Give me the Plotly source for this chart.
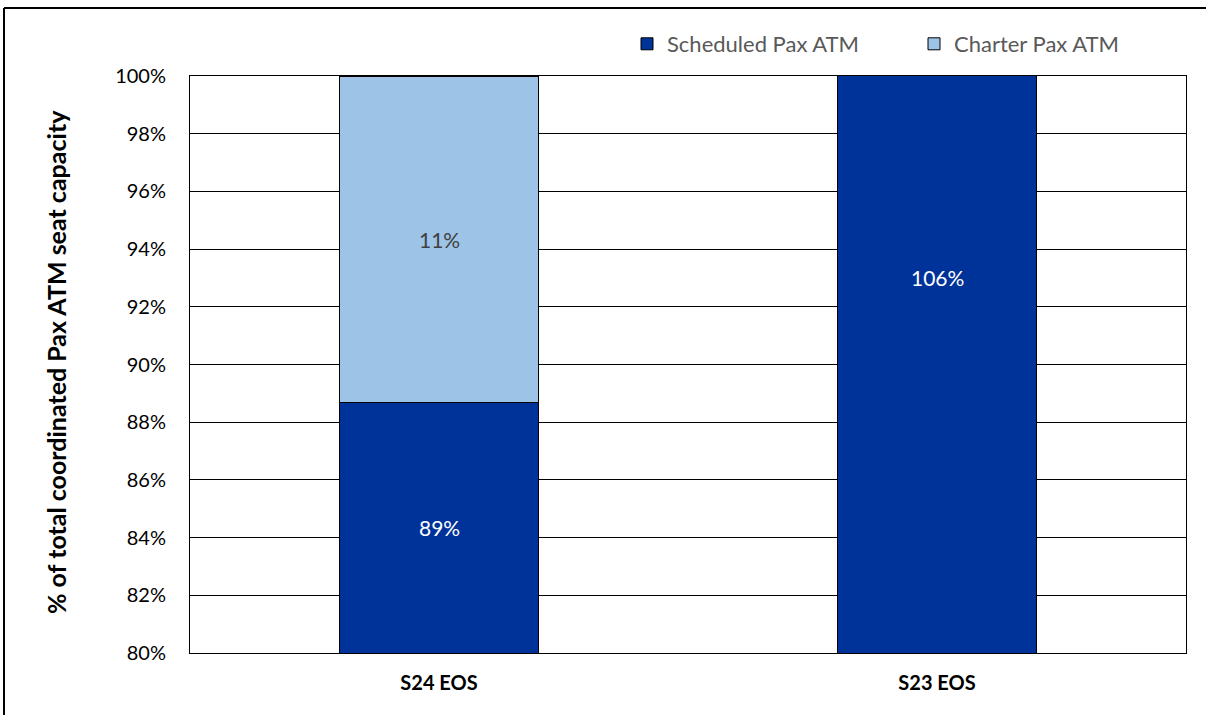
import plotly.graph_objects as go

categories = ["S24 EOS", "S23 EOS"]
scheduled = [88.7, 106.0]
charter = [11.3, None]
labels_sched = ["89%", "106%"]
labels_charter = ["11%", None]
y_min, y_max = 80, 100
y_ticks = [80, 82, 84, 86, 88, 90, 92, 94, 96, 98, 100]

W, H = 1206, 715
L, R, T, B = 190, 1186, 76, 653
FONT = "Lato, 'Open Sans', sans-serif"

fig = go.Figure()
fig.add_trace(go.Bar(name="Scheduled Pax ATM", x=categories, y=scheduled, legend="legend",
                     showlegend=True,
                     marker=dict(color="#003399", line=dict(color="#000000", width=1))))
fig.add_trace(go.Bar(name="Charter Pax ATM", x=categories, y=charter, legend="legend2",
                     showlegend=True,
                     marker=dict(color="#9DC3E6", line=dict(color="#000000", width=1))))

# data labels (centered on visible bar segment, Excel-style)
for i, c in enumerate(categories):
    s = scheduled[i]
    fig.add_annotation(x=c, y=(max(0, y_min) + s) / 2, text=labels_sched[i], showarrow=False,
                       font=dict(family=FONT, size=21, color="white"))
    if charter[i] is not None:
        top = s + charter[i]
        fig.add_annotation(x=c, y=(max(s, y_min) + min(top, y_max)) / 2, text=labels_charter[i],
                           showarrow=False, font=dict(family=FONT, size=21, color="#404040"))

def px(xp):
    return (xp - L) / (R - L)

def py(yp):
    return (B - yp) / (B - T)

# y-axis title
fig.add_annotation(xref="paper", yref="paper", x=px(56), y=py(362), textangle=-90,
                   xanchor="center", yanchor="middle",
                   text="% of total coordinated Pax ATM seat capacity", showarrow=False,
                   font=dict(family=FONT, size=25, color="black", weight="bold"))

# outer chart border (left and top)
fig.add_shape(type="line", xref="paper", yref="paper", x0=px(4), x1=px(4), y0=py(8), y1=py(H + 5),
              line=dict(color="black", width=2))
fig.add_shape(type="line", xref="paper", yref="paper", x0=px(4), x1=px(W + 5), y0=py(8), y1=py(8),
              line=dict(color="black", width=2))

leg_common = dict(orientation="h", yanchor="middle", xanchor="left", itemwidth=30, visible=True,
                  font=dict(family=FONT, size=22, color="#595959"), bgcolor="rgba(0,0,0,0)")

fig.update_layout(
    width=W, height=H,
    margin=dict(l=L, r=W - R, t=T, b=H - B),
    barmode="stack", bargap=0.6, showlegend=True,
    plot_bgcolor="white", paper_bgcolor="white",
    font=dict(family=FONT, size=20, color="#000000"),
    legend=dict(x=px(627), y=py(44), **leg_common),
    legend2=dict(x=px(914), y=py(44), **leg_common),
    xaxis=dict(showline=True, linecolor="black", linewidth=1, mirror=True,
               tickfont=dict(family=FONT, size=20, color="black", weight="bold"), ticks="",
               ticklabelstandoff=12),
    yaxis=dict(range=[y_min, y_max], tickvals=y_ticks, ticktext=[f"{v}%" for v in y_ticks],
               showgrid=True, gridcolor="black", gridwidth=1,
               showline=True, linecolor="black", linewidth=1, mirror=True,
               tickfont=dict(family=FONT, size=20, color="black"), ticks="",
               ticklabelstandoff=19),
)

fig.write_html("out.html", config={"displayModeBar": False},
               post_script="document.body.style.margin='0';document.body.style.overflow='hidden';"
                           "document.documentElement.style.overflow='hidden';")
